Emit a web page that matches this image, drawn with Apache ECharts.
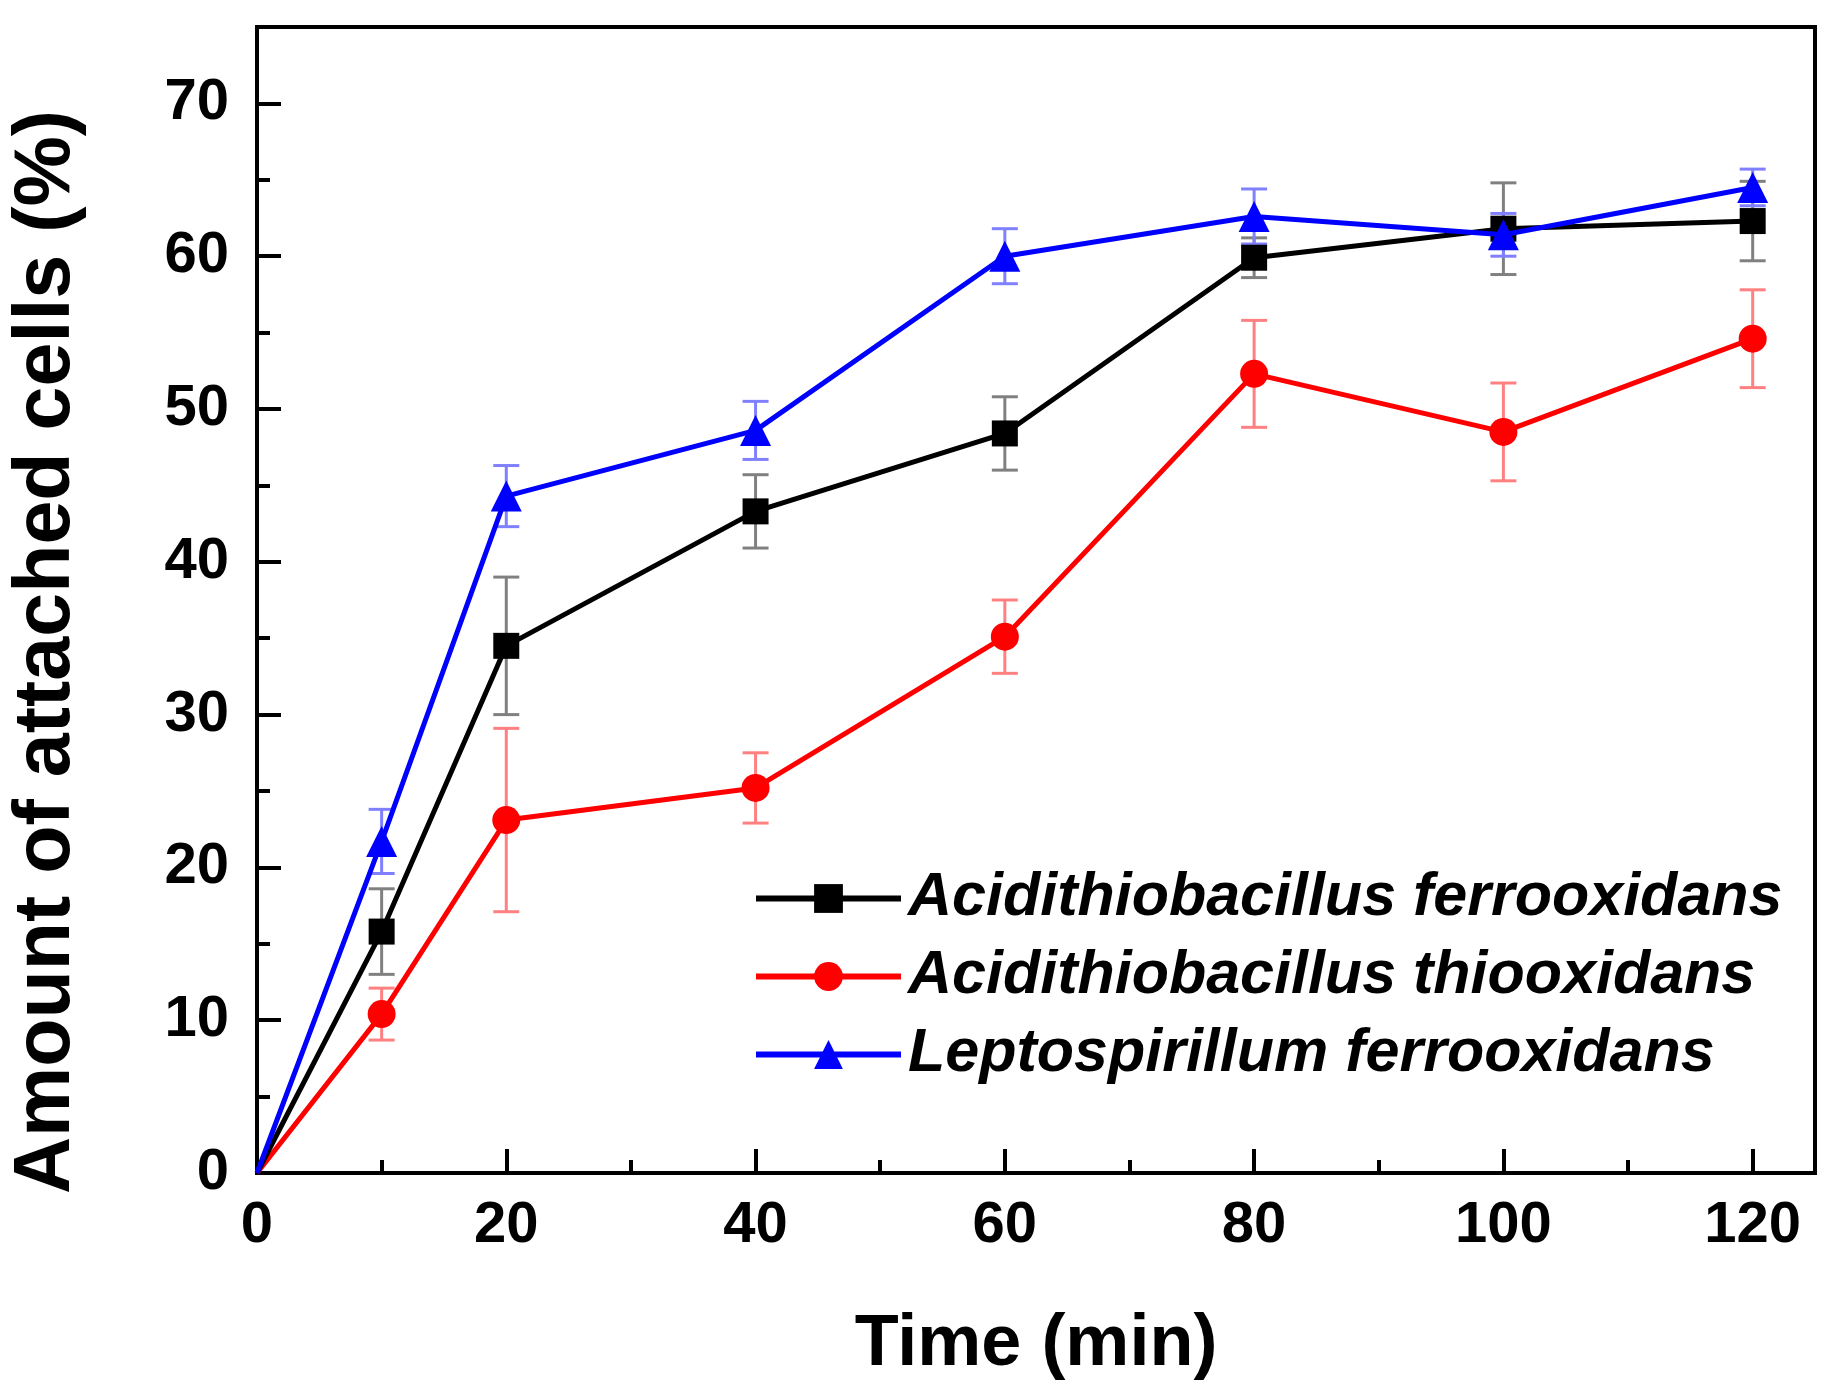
<!DOCTYPE html>
<html>
<head>
<meta charset="utf-8">
<script src="https://cdn.jsdelivr.net/npm/echarts@6/dist/echarts.min.js"></script>
<style>
  html, body { margin: 0; padding: 0; background: #fff; }
  #main { width: 1844px; height: 1397px; }
</style>
</head>
<body>
<div id="main"></div>
<script>
var myChart = echarts.init(document.getElementById('main'))

// time points (min)
var times = [0, 10, 20, 40, 60, 80, 100, 120]

// attached cells (%) and error bars
var afValues = [0, 15.8, 34.5, 43.3, 48.4, 59.9, 61.8, 62.3]
var afErrors = [0, 2.8, 4.5, 2.4, 2.4, 1.3, 3.0, 2.6]
var atValues = [0, 10.4, 23.1, 25.2, 35.1, 52.3, 48.5, 54.6]
var atErrors = [0, 1.7, 6.0, 2.3, 2.4, 3.5, 3.2, 3.2]
var lfValues = [0, 21.7, 44.3, 48.6, 60.0, 62.6, 61.4, 64.5]
var lfErrors = [0, 2.1, 2.0, 1.9, 1.8, 1.8, 1.4, 1.2]

var names = ['Acidithiobacillus ferrooxidans', 'Acidithiobacillus thiooxidans', 'Leptospirillum ferrooxidans']

var font = "'Liberation Sans', Arial, sans-serif"

function points(vals) {
    return times.map(function (t, i) {
        // origin point has no visible marker
        if (i === 0) return { value: [t, vals[i]], symbol: 'none' }
        return [t, vals[i]]
    })
}

function bars(vals, errs) {
    var out = []
    times.forEach(function (t, i) {
        if (errs[i] > 0) out.push([t, vals[i] - errs[i], vals[i] + errs[i]])
    })
    return out
}

function errorBar(color, z) {
    return function (vals, errs) {
        return {
            type: 'custom',
            z: z,
            silent: true,
            renderItem: function (params, api) {
                var lo = api.coord([api.value(0), api.value(1)])
                var hi = api.coord([api.value(0), api.value(2)])
                var w = 13
                var st = { stroke: color, lineWidth: 3 }
                return {
                    type: 'group',
                    children: [
                        { type: 'line', shape: { x1: lo[0], y1: lo[1], x2: hi[0], y2: hi[1] }, style: st },
                        { type: 'line', shape: { x1: lo[0] - w, y1: lo[1], x2: lo[0] + w, y2: lo[1] }, style: st },
                        { type: 'line', shape: { x1: hi[0] - w, y1: hi[1], x2: hi[0] + w, y2: hi[1] }, style: st }
                    ]
                }
            },
            encode: { x: 0, y: [1, 2] },
            data: bars(vals, errs)
        }
    }
}

function lineSeries(name, vals, color, symbol, size, z) {
    return {
        name: name,
        type: 'line',
        z: z,
        data: points(vals),
        symbol: symbol,
        symbolSize: size,
        lineStyle: { color: color, width: 5 },
        itemStyle: { color: color },
        emphasis: { disabled: true }
    }
}

var options = {
    animation: false,
    backgroundColor: '#fff',
    grid: {
        left: 257, right: 29, top: 27, bottom: 224,
        show: true, borderColor: '#000', borderWidth: 4
    },
    legend: {
        orient: 'vertical',
        left: 748,
        top: 863,
        itemWidth: 145,
        itemHeight: 36,
        itemGap: 17,
        lineStyle: { width: 6 },
        textStyle: { fontFamily: font, fontSize: 61, fontWeight: 'bold', fontStyle: 'italic', color: '#000', padding: [0, 0, 0, 2] },
        data: names
    },
    xAxis: {
        type: 'value',
        min: 0, max: 125, interval: 20,
        name: 'Time (min)',
        nameLocation: 'middle',
        nameGap: 136,
        nameTextStyle: { fontFamily: font, fontSize: 72, fontWeight: 'bold', color: '#000' },
        axisLine: { onZero: false, lineStyle: { color: '#000', width: 4 } },
        axisTick: { inside: true, length: 24, lineStyle: { width: 4, color: '#000' } },
        minorTick: { show: true, splitNumber: 2, length: 13, lineStyle: { width: 4, color: '#000' } },
        splitLine: { show: false },
        axisLabel: {
            margin: 24, fontFamily: font, fontSize: 58, fontWeight: 'bold', color: '#000',
            formatter: function (v) { return v > 120 ? '' : v }
        }
    },
    yAxis: {
        type: 'value',
        min: 0, max: 75, interval: 10,
        name: 'Amount of attached cells (%)',
        nameLocation: 'middle',
        nameGap: 170,
        nameTextStyle: { fontFamily: font, fontSize: 79, fontWeight: 'bold', color: '#000', padding: [0, 104, 0, 0] },
        axisLine: { onZero: false, lineStyle: { color: '#000', width: 4 } },
        axisTick: { inside: true, length: 24, lineStyle: { width: 4, color: '#000' } },
        minorTick: { show: true, splitNumber: 2, length: 13, lineStyle: { width: 4, color: '#000' } },
        splitLine: { show: false },
        axisLabel: {
            margin: 28, fontFamily: font, fontSize: 58, fontWeight: 'bold', color: '#000',
            formatter: function (v) { return v > 70 ? '' : v }
        }
    },
    series: [
        errorBar('#ff8080', 2)(atValues, atErrors),
        errorBar('#808080', 2)(afValues, afErrors),
        errorBar('#8080ff', 2)(lfValues, lfErrors),
        lineSeries(names[1], atValues, '#ff0000', 'circle', 28, 3),
        lineSeries(names[0], afValues, '#000000', 'rect', 26, 4),
        lineSeries(names[2], lfValues, '#0000ff', 'triangle', 31, 5)
    ]
}

myChart.setOption(options)
</script>
</body>
</html>
